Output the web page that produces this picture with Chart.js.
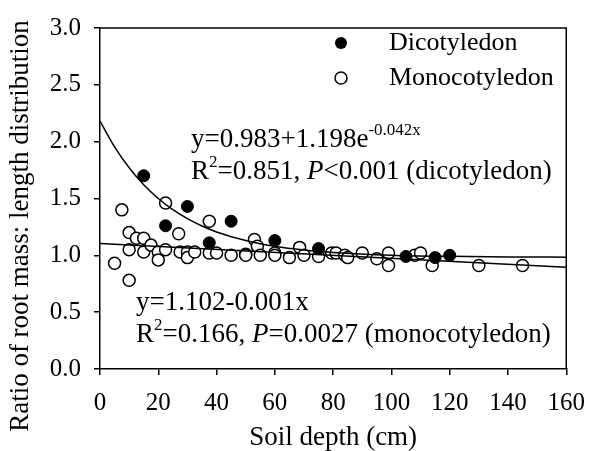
<!DOCTYPE html>
<html>
<head>
<meta charset="utf-8">
<script src="https://cdn.jsdelivr.net/npm/chart.js@4.4.1/dist/chart.umd.min.js"></script>
<style>
  html, body { margin: 0; padding: 0; background: #fff; }
  #rootChart { display: block; }
</style>
</head>
<body>
<canvas id="rootChart" width="598" height="451"></canvas>
<script>
// Dicotyledon observations (soil depth cm, ratio)
const dicotDepth = [15, 22.5, 30, 37.5, 45, 60, 75, 105, 115, 120];
const dicotRatio = [1.70, 1.26, 1.43, 1.11, 1.30, 1.13, 1.06, 0.99, 0.98, 1.00];

// Monocotyledon observations
const monoDepth = [5, 7.5, 10, 10, 10, 12.5, 15, 15, 17.5, 20, 20, 22.5, 22.5, 27, 27.5, 30, 30, 32.5,
    37.5, 37.5, 40, 45, 50, 50, 53, 54, 55, 60, 60, 65, 68.5, 70, 75, 79.5, 81, 84, 85, 90, 95,
    99, 99, 108, 110, 114, 130, 145];
const monoRatio = [0.93, 1.40, 1.20, 1.05, 0.78, 1.15, 1.15, 1.03, 1.09, 1.03, 0.96, 1.46, 1.05, 1.19, 1.03, 1.03, 0.98, 1.03,
    1.30, 1.02, 1.02, 1.00, 1.01, 1.00, 1.14, 1.08, 1.00, 1.02, 1.00, 0.98, 1.07, 1.00, 0.99, 1.02, 1.02, 1.00, 0.98, 1.02, 0.97,
    1.02, 0.91, 1.00, 1.02, 0.91, 0.91, 0.91];

// fitted curves
const dicotFitX = [0, 5, 10, 15, 20, 25, 30, 35, 40, 50, 60, 70, 80, 100, 120, 140, 160];
const dicotFitY = [2.181, 1.954, 1.770, 1.621, 1.500, 1.402, 1.323, 1.258, 1.206, 1.130, 1.079, 1.046, 1.025, 1.001, 0.991, 0.986, 0.984];
const monoFitX = [0, 160];
const monoFitY = [1.105, 0.895];

const xTicks = [0, 20, 40, 60, 80, 100, 120, 140, 160];
const yTicks = [0.0, 0.5, 1.0, 1.5, 2.0, 2.5, 3.0];

const serif = '"Liberation Serif", "Times New Roman", serif';

function toPoints(xs, ys) {
    return xs.map((x, i) => ({ x: x, y: ys[i] }));
}

// write a line made of pieces (normal, superscript, italic)
function drawRich(ctx, x, y, parts, size) {
    let cx = x;
    parts.forEach(p => {
        const s = p.sup ? Math.round(size * 0.62) : size;
        ctx.font = (p.italic ? 'italic ' : '') + s + 'px ' + serif;
        ctx.fillText(p.t, cx, p.sup ? y - size * 0.36 : y);
        cx += ctx.measureText(p.t).width;
    });
}

const extrasPlugin = {
    id: 'extras',
    afterDatasetsDraw(chart) {
        const ctx = chart.ctx;
        const a = chart.chartArea;
        ctx.save();
        // top and right frame
        ctx.strokeStyle = '#000';
        ctx.lineWidth = 1.5;
        ctx.beginPath();
        ctx.moveTo(a.left, a.top);
        ctx.lineTo(a.right, a.top);
        ctx.lineTo(a.right, a.bottom);
        ctx.stroke();

        // legend
        ctx.fillStyle = '#000';
        ctx.beginPath();
        ctx.arc(341, 43, 6, 0, Math.PI * 2);
        ctx.fill();
        ctx.beginPath();
        ctx.arc(341, 78, 6, 0, Math.PI * 2);
        ctx.fillStyle = '#fff';
        ctx.fill();
        ctx.stroke();
        ctx.fillStyle = '#000';
        ctx.textBaseline = 'middle';
        ctx.textAlign = 'left';
        ctx.font = '26px ' + serif;
        ctx.fillText('Dicotyledon', 389, 43);
        ctx.fillText('Monocotyledon', 389, 78);

        // regression labels
        drawRich(ctx, 191, 140, [{ t: 'y=0.983+1.198e' }, { t: '-0.042x', sup: true }], 27);
        drawRich(ctx, 191, 172, [{ t: 'R' }, { t: '2', sup: true }, { t: '=0.851, ' }, { t: 'P', italic: true },
            { t: '<0.001 (dicotyledon)' }], 27);
        drawRich(ctx, 136, 303, [{ t: 'y=1.102-0.001x' }], 27);
        drawRich(ctx, 136, 335, [{ t: 'R' }, { t: '2', sup: true }, { t: '=0.166, ' }, { t: 'P', italic: true },
            { t: '=0.0027 (monocotyledon)' }], 27);

        // y axis title, centred on the page height like the original
        ctx.translate(21, 226);
        ctx.rotate(-Math.PI / 2);
        ctx.textAlign = 'center';
        ctx.font = '27px ' + serif;
        ctx.fillText('Ratio of root mass: length distribution', 0, 0);
        ctx.restore();
    }
};

const ctx = document.getElementById('rootChart').getContext('2d');
const rootChart = new Chart(ctx, {
    type: 'scatter',
    data: {
        datasets: [{
            label: 'Dicotyledon',
            data: toPoints(dicotDepth, dicotRatio),
            pointRadius: 6,
            pointBackgroundColor: '#000',
            pointBorderColor: '#000',
            pointBorderWidth: 1,
            order: 0
        }, {
            label: 'dicot fit',
            data: toPoints(dicotFitX, dicotFitY),
            showLine: true,
            cubicInterpolationMode: 'monotone',
            pointRadius: 0,
            borderColor: '#000',
            borderWidth: 1.5,
            order: 1
        }, {
            label: 'mono fit',
            data: toPoints(monoFitX, monoFitY),
            showLine: true,
            pointRadius: 0,
            borderColor: '#000',
            borderWidth: 1.5,
            order: 2
        }, {
            label: 'Monocotyledon',
            data: toPoints(monoDepth, monoRatio),
            pointRadius: 6,
            pointBackgroundColor: '#fff',
            pointBorderColor: '#000',
            pointBorderWidth: 1.5,
            order: 3
        }]
    },
    options: {
        responsive: false,
        animation: false,
        layout: { padding: { left: 0, top: 19, right: 31, bottom: 0 } },
        plugins: {
            legend: { display: false },
            tooltip: { enabled: false }
        },
        scales: {
            x: {
                type: 'linear',
                min: 0,
                max: 160,
                afterFit: s => { s.height = 82; },
                afterBuildTicks: s => { s.ticks = xTicks.map(v => ({ value: v })); },
                ticks: { font: { family: serif, size: 25 }, color: '#000', padding: 13, maxRotation: 0 },
                grid: { drawOnChartArea: false, drawTicks: true, tickLength: 6, color: '#000', lineWidth: 1.5 },
                border: { color: '#000', width: 1.5 },
                title: { display: true, text: 'Soil depth (cm)', color: '#000',
                    font: { family: serif, size: 27, lineHeight: 1.0 }, padding: { top: 0, bottom: 0 } }
            },
            y: {
                min: 0,
                max: 3,
                afterFit: s => { s.width = 100; },
                afterBuildTicks: s => { s.ticks = yTicks.map(v => ({ value: v })); },
                ticks: { font: { family: serif, size: 25 }, color: '#000', padding: 13,
                    callback: v => v.toFixed(1) },
                grid: { drawOnChartArea: false, drawTicks: true, tickLength: 6, color: '#000', lineWidth: 1.5 },
                border: { color: '#000', width: 1.5 },
                title: { display: false }
            }
        }
    },
    plugins: [extrasPlugin]
});
</script>
</body>
</html>
